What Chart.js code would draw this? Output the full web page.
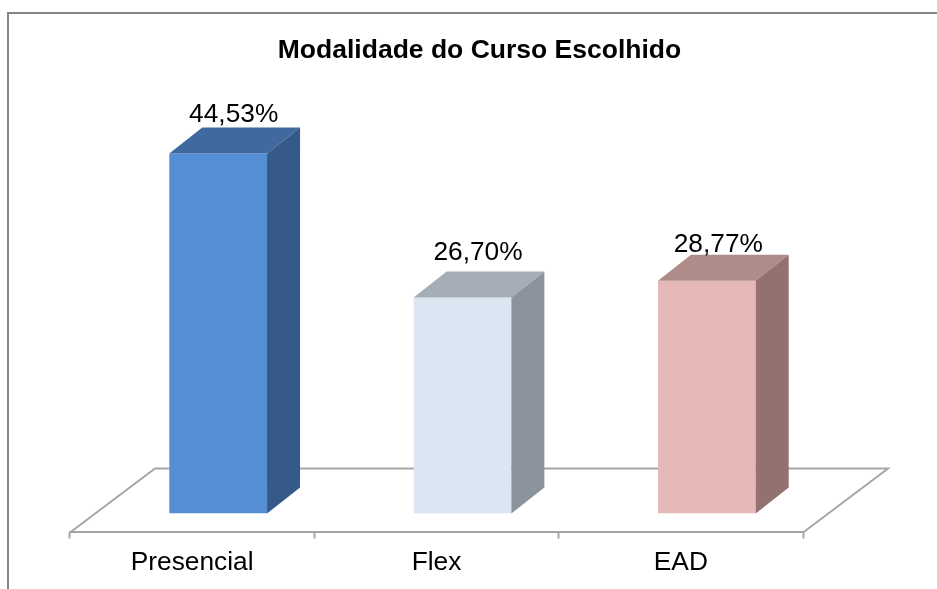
<!DOCTYPE html>
<html lang="pt">
<head>
<meta charset="utf-8">
<title>Modalidade do Curso Escolhido</title>
<script src="https://cdn.jsdelivr.net/npm/chart.js@4/dist/chart.umd.min.js"></script>
<style>
    html, body { margin: 0; padding: 0; background: #fff; overflow: hidden; }
    canvas { display: block; }
</style>
</head>
<body>
<canvas id="modalidadeChart" width="937" height="589"></canvas>
<script>
const categories = ['Presencial', 'Flex', 'EAD'];
const percentages = [44.53, 26.70, 28.77];

const frontColors = ['#558ed5', '#dce6f2', '#e6b9b8'];
const topColors = ['#4069a0', '#a5adb6', '#ad8c8a'];
const sideColors = ['#355a8a', '#8b939c', '#93716f'];

// small per-label nudges, the labels in the picture don't sit evenly over the bars
const labelNudgeX = [-1, -1, -5];
const labelNudgeY = [-5, -12, -3];

const lineGray = '#a6a6a6';
const frameGray = '#868686';
const labelFont = '26.3px "Liberation Sans", Arial, sans-serif';

// the bars stand in the middle of the floor, the side and top faces go further back
const barShift = { x: 26, y: -19 };
const barDepth = { x: 33, y: -26 };
const floorDepth = { x: 85, y: -64 };

const box3d = {
    id: 'box3d',
    beforeDraw(chart) {
        const c = chart.ctx;
        c.save();
        c.strokeStyle = frameGray;
        c.lineWidth = 2;
        c.beginPath();
        c.moveTo(8, chart.height);
        c.lineTo(8, 13);
        c.lineTo(chart.width, 13);
        c.stroke();
        c.restore();
    },
    beforeDatasetsDraw(chart) {
        const c = chart.ctx;
        const a = chart.chartArea;
        c.save();
        c.strokeStyle = lineGray;
        c.lineWidth = 2;
        c.beginPath();
        c.moveTo(a.left, a.bottom);
        c.lineTo(a.left + floorDepth.x, a.bottom + floorDepth.y);
        c.lineTo(a.right + floorDepth.x, a.bottom + floorDepth.y);
        c.lineTo(a.right, a.bottom);
        c.stroke();
        c.restore();

        c.save();
        c.translate(barShift.x, barShift.y);
    },
    afterDatasetsDraw(chart) {
        const c = chart.ctx;
        chart.getDatasetMeta(0).data.forEach(function(bar, i) {
            const x0 = bar.x - bar.width / 2;
            const x1 = bar.x + bar.width / 2;

            c.fillStyle = topColors[i];
            c.beginPath();
            c.moveTo(x0, bar.y);
            c.lineTo(x0 + barDepth.x, bar.y + barDepth.y);
            c.lineTo(x1 + barDepth.x, bar.y + barDepth.y);
            c.lineTo(x1, bar.y);
            c.closePath();
            c.fill();

            c.fillStyle = sideColors[i];
            c.beginPath();
            c.moveTo(x1, bar.y);
            c.lineTo(x1 + barDepth.x, bar.y + barDepth.y);
            c.lineTo(x1 + barDepth.x, bar.base + barDepth.y);
            c.lineTo(x1, bar.base);
            c.closePath();
            c.fill();

            c.font = labelFont;
            c.fillStyle = '#000';
            c.textAlign = 'center';
            c.textBaseline = 'alphabetic';
            c.fillText(
                percentages[i].toFixed(2).replace('.', ',') + '%',
                bar.x + barDepth.x / 2 + labelNudgeX[i],
                bar.y + barDepth.y + labelNudgeY[i]
            );
        });
        c.restore();
    },
    afterLayout(chart) {
        // title is centered on the frame, not on the plot
        chart.titleBlock.left += 43;
        chart.titleBlock.right += 43;
    }
};

document.addEventListener('DOMContentLoaded', function() {
    const ctx = document.getElementById('modalidadeChart').getContext('2d');

    new Chart(ctx, {
        type: 'bar',
        data: {
            labels: categories,
            datasets: [{
                label: 'Modalidade do Curso Escolhido',
                data: percentages,
                backgroundColor: frontColors,
                borderWidth: 0,
                barPercentage: 0.4,
                categoryPercentage: 1
            }]
        },
        options: {
            responsive: false,
            animation: false,
            layout: {
                padding: { left: 70, right: 134, top: 35, bottom: 1 }
            },
            plugins: {
                legend: { display: false },
                tooltip: { enabled: false },
                title: {
                    display: true,
                    text: 'Modalidade do Curso Escolhido',
                    color: '#000',
                    font: { family: '"Liberation Sans", Arial, sans-serif', size: 26.5, weight: 'bold' },
                    padding: { top: 0, bottom: 21 }
                }
            },
            scales: {
                x: {
                    grid: {
                        drawOnChartArea: false,
                        color: lineGray,
                        tickLength: 6,
                        tickWidth: 2
                    },
                    border: { color: lineGray, width: 2 },
                    ticks: {
                        color: '#000',
                        padding: 9,
                        maxRotation: 0,
                        font: { family: '"Liberation Sans", Arial, sans-serif', size: 26.3 }
                    }
                },
                y: {
                    display: false,
                    min: 0,
                    max: 55
                }
            }
        },
        plugins: [box3d]
    });
});
</script>
</body>
</html>
